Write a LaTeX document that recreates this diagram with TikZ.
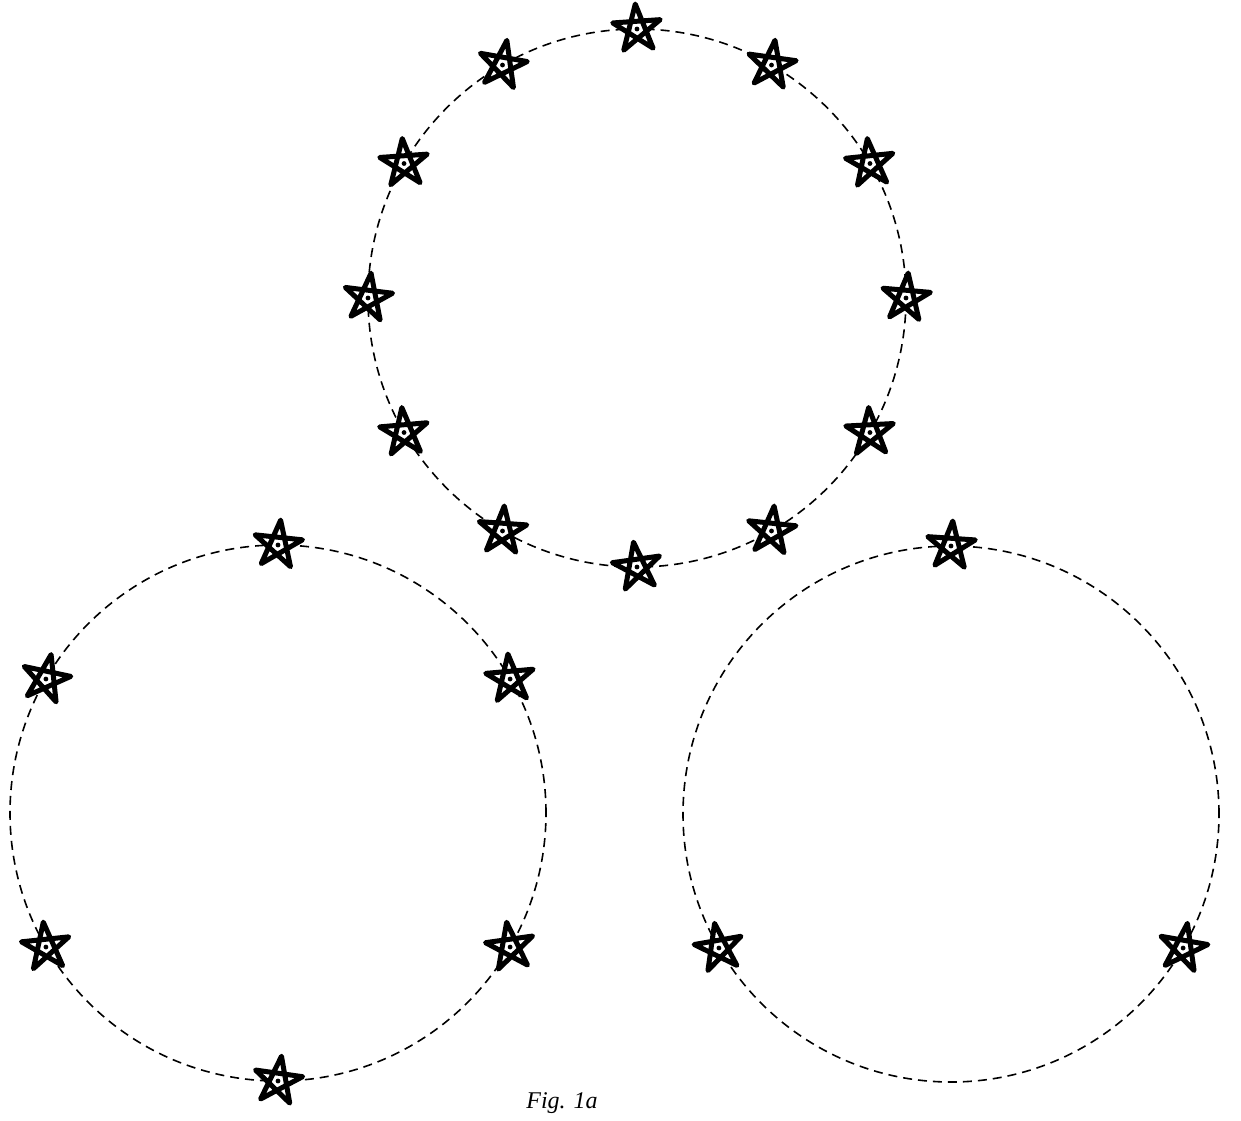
\documentclass[tikz,border=0pt]{standalone}
\usepackage{fontspec}
\newfontfamily\capfont{Liberation Serif}
\usetikzlibrary{calc}
\begin{document}
\begin{tikzpicture}[x=1pt,y=-1pt,
  orbit/.style={dash pattern=on 9pt off 6pt, line width=1.6pt},
  pics/pentagram/.style={code={
     \draw[line width=5pt, line join=round, fill=white, rotate=#1]
       (90:25pt) -- (234:25pt) -- (18:25pt) -- (162:25pt) -- (306:25pt) -- cycle;
     \fill (0,0) circle[radius=2.4pt];
  }}]
\useasboundingbox (0,0) rectangle (1241,1120);
\coordinate (CT) at (637,298);
\coordinate (CL) at (278,813);
\coordinate (CR) at (951,814);
\draw[orbit] (CT) circle[radius=269pt];
\draw[orbit] (CL) circle[radius=268pt];
\draw[orbit] (CR) circle[radius=268pt];
\foreach \a/\r [count=\i] in {90/4,60/-8,30/6,0/-5,-30/3,-60/-6,-90/8,-120/-4,-150/5,-180/-7,150/4,120/-10}{
  \coordinate (T\i) at ($(CT)+(\a:269pt)$);
  \pic at (T\i) {pentagram=\r};
}
\foreach \a/\r [count=\i] in {90/-6,30/5,-30/8,-90/-8,-150/6,150/-12}{
  \coordinate (L\i) at ($(CL)+(\a:268pt)$);
  \pic at (L\i) {pentagram=\r};
}
\foreach \a/\r [count=\i] in {90/-4,-30/-10,-150/10}{
  \coordinate (R\i) at ($(CR)+(\a:268pt)$);
  \pic at (R\i) {pentagram=\r};
}
\node[font=\capfont\itshape\fontsize{24}{28}\selectfont, inner sep=0pt] (cap) at (562,1103) {Fig. 1a};
\end{tikzpicture}
\end{document}
